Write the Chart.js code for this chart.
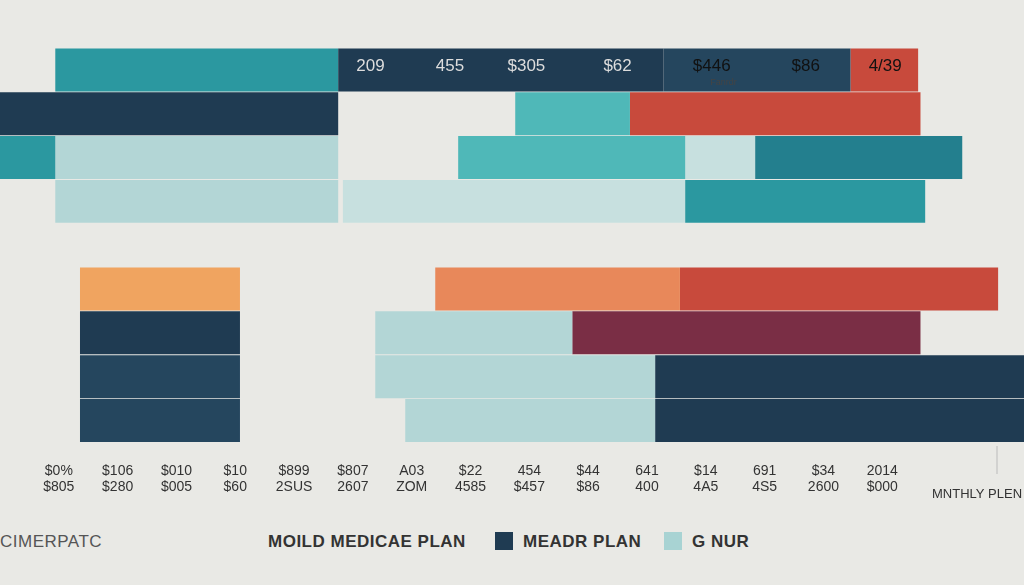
<!DOCTYPE html>
<html><head><meta charset="utf-8">
<script src="https://cdn.jsdelivr.net/npm/chart.js@4/dist/chart.umd.min.js"></script>
<style>
body{margin:0;background:#e9e9e5;font-family:"Liberation Sans",Arial,sans-serif;overflow:hidden;}
#wrap{position:relative;width:1024px;height:585px;overflow:hidden;}
#c{position:absolute;left:-12px;top:0;}
.lg{position:absolute;top:532px;font-size:17px;color:#333;letter-spacing:0.5px;}
.sw{display:inline-block;width:18px;height:18px;vertical-align:-3px;margin-right:10px;}
</style></head><body>
<div id="wrap"><canvas id="c" width="1048" height="508"></canvas>
<div class="lg" style="left:0;color:#555">CIMERPATC</div>
<div class="lg" style="left:268px;font-weight:bold">MOILD MEDICAE PLAN</div>
<div class="lg" style="left:495px;font-weight:bold"><span class="sw" style="background:#1f3b52"></span>MEADR PLAN</div>
<div class="lg" style="left:664px;font-weight:bold"><span class="sw" style="background:#a8d3d3"></span>G NUR</div>
</div>
<script>
const rows=["r1","r2","r3","r4","gap","r5","r6","r7","r8"];
const tickTop=["$0%","$106","$010","$10","$899","$807","A03","$22","454","$44","641","$14","691","$34","2014"];
const tickBot=["$805","$280","$005","$60","2SUS","2607","ZOM","4585","$457","$86","400","4A5","4S5","2600","$000"];
const topVals=["209","455","$305","$62","$446","$86","4/39"];
const topPos=[6.3,7.65,8.95,10.5,12.1,13.7,15.05];
const navy=[[5.75,11.28],[0,5.75],null,null,null,null,[1.36,4.08],[11.14,17.41],[11.14,17.41]];
const navy2=[[11.28,14.46],null,null,null,null,null,null,[1.36,4.08],[1.36,4.08]];
const teal=[[0.94,5.75],null,[0,0.94],[11.65,15.73],null,null,null,null,null];
const teal2=[null,null,[12.84,16.36],null,null,null,null,null,null];
const midTeal=[null,[8.76,10.71],[7.79,11.65],null,null,null,null,null,null];
const light=[null,null,[0.94,5.75],[0.94,5.75],null,null,[6.38,9.73],[6.38,11.14],[6.89,11.14]];
const light2=[null,null,[11.65,12.84],[5.83,11.65],null,null,null,null,null];
const orange=[null,null,null,null,null,[1.36,4.08],null,null,null];
const orange2=[null,null,null,null,null,[7.4,11.56],null,null,null];
const red=[[14.46,15.61],[10.71,15.65],null,null,null,[11.56,16.97],null,null,null];
const maroon=[null,null,null,null,null,null,[9.73,15.65],null,null];
function ds(d,c){return{data:d,backgroundColor:c,barPercentage:1,categoryPercentage:0.98,borderSkipped:false};}
const labelPlugin={id:'lp',afterDatasetsDraw(ch){const x=ch.scales.x,y=ch.scales.y,ctx=ch.ctx;
 ctx.save();ctx.font='17px "Liberation Sans"';ctx.textAlign='center';ctx.textBaseline='middle';
 topVals.forEach((t,i)=>{ctx.fillStyle=i>=4?'#111':'#ddd';ctx.fillText(t,x.getPixelForValue(topPos[i]),y.getPixelForValue(0)-4);});
 ctx.font='9px "Liberation Sans"';ctx.fillStyle='#444';ctx.fillText('Fanrdr',x.getPixelForValue(12.3),y.getPixelForValue(0)+13);
 ctx.font='13px "Liberation Sans"';ctx.fillStyle='#333';ctx.textAlign='left';ctx.fillText('MNTHLY PLEN',944,494);
 ctx.strokeStyle='#bbb';ctx.beginPath();ctx.moveTo(1009,446);ctx.lineTo(1009,474);ctx.stroke();ctx.restore();}};
new Chart(document.getElementById('c'),{type:'bar',
 data:{labels:rows,datasets:[ds(navy,'#1f3b52'),ds(navy2,'#25465e'),ds(teal,'#2b98a0'),ds(teal2,'#237f8e'),ds(midTeal,'#4fb8b8'),ds(light,'#b3d6d6'),ds(light2,'#c7e0df'),ds(orange,'#f0a460'),ds(orange2,'#e8885a'),ds(red,'#c84a3c'),ds(maroon,'#7a2e45')]},
 plugins:[labelPlugin],
 options:{responsive:false,animation:false,indexAxis:'y',grouped:false,
  layout:{padding:{top:48,right:0,left:0,bottom:0}},
  plugins:{legend:{display:false},tooltip:{enabled:false}},
  scales:{y:{display:false,grid:{display:false}},
   x:{min:0,max:17.41,grid:{display:false},border:{display:false},
    ticks:{stepSize:1,autoSkip:false,maxRotation:0,color:'#333',font:{size:14},padding:12,
     callback:(v)=>(v>=1&&v<=15)?[tickTop[v-1],tickBot[v-1]]:''}}}}});
</script></body></html>
